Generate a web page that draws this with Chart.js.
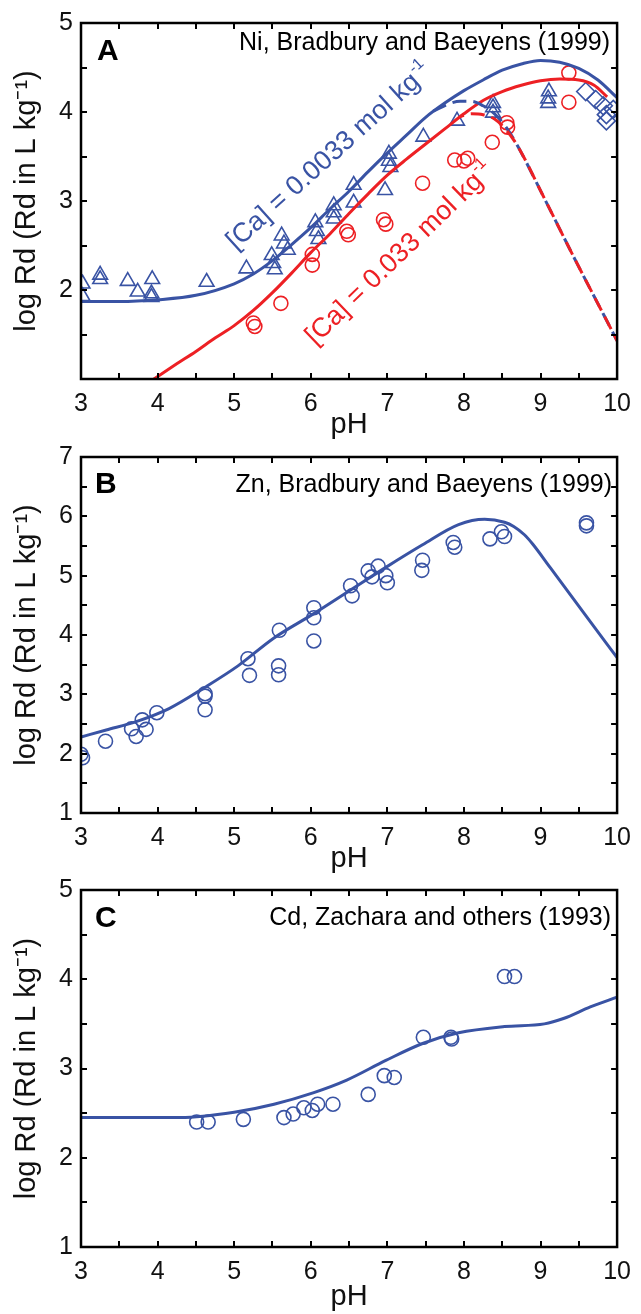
<!DOCTYPE html>
<html><head><meta charset="utf-8">
<script src="https://cdn.jsdelivr.net/npm/chart.js@4.4.1/dist/chart.umd.min.js"></script>
<style>
html,body{margin:0;padding:0;background:#fff;}
body{width:641px;height:1314px;position:relative;overflow:hidden;}
canvas{position:absolute;left:0;display:block;}
</style></head><body>
<canvas id="ca" width="641" height="445" style="top:0px"></canvas>
<canvas id="cb" width="641" height="444" style="top:434px"></canvas>
<canvas id="cc" width="641" height="447" style="top:867px"></canvas>
<script>
// ---------- shared axis data ----------
const xTickValues = [3, 4, 5, 6, 7, 8, 9, 10];
const yTicksA = [1, 2, 3, 4, 5];
const yTicksB = [1, 2, 3, 4, 5, 6, 7];
const yTicksC = [1, 2, 3, 4, 5];

// ---------- Panel A: Ni, Bradbury and Baeyens (1999) ----------
// model, [Ca] = 0.0033 mol/kg (blue, solid)
const niLowCaX = [3.0, 3.5, 4.0, 4.5, 5.0, 5.25, 5.5, 5.75, 6.0, 6.25, 6.5, 6.75, 7.0, 7.25, 7.5, 7.75, 8.0, 8.25, 8.5, 8.75, 9.0, 9.25, 9.5, 9.75, 10.0];
const niLowCaY = [1.87, 1.87, 1.89, 1.94, 2.07, 2.18, 2.33, 2.51, 2.70, 2.91, 3.11, 3.33, 3.54, 3.74, 3.94, 4.10, 4.24, 4.36, 4.47, 4.54, 4.58, 4.56, 4.49, 4.36, 4.16];
// model, [Ca] = 0.033 mol/kg (red, solid)
const niHighCaX = [3.9, 4.25, 4.5, 4.75, 5.0, 5.25, 5.5, 5.75, 6.0, 6.25, 6.5, 6.75, 7.0, 7.25, 7.5, 7.75, 8.0, 8.25, 8.5, 8.75, 9.0, 9.25, 9.5, 9.7, 9.87];
const niHighCaY = [0.97, 1.17, 1.31, 1.46, 1.60, 1.77, 1.97, 2.19, 2.42, 2.63, 2.86, 3.08, 3.29, 3.47, 3.64, 3.81, 3.98, 4.13, 4.23, 4.30, 4.35, 4.37, 4.36, 4.30, 4.17];
// alternative model (dashed), low Ca (blue)
const niLowCaDashX = [7.6, 7.8, 7.95, 8.1, 8.25, 8.4, 8.55, 8.7, 9.05, 9.47, 9.82, 10.0];
const niLowCaDashY = [4.01, 4.09, 4.12, 4.12, 4.07, 3.98, 3.83, 3.62, 3.03, 2.31, 1.73, 1.43];
// alternative model (dashed), high Ca (red)
const niHighCaDashX = [7.95, 8.1, 8.25, 8.4, 8.55, 8.7, 9.05, 9.47, 9.82, 10.0];
const niHighCaDashY = [3.95, 3.98, 3.97, 3.92, 3.80, 3.62, 3.03, 2.31, 1.73, 1.43];
// observations, low Ca (triangles)
const niTriX = [3.02, 3.02, 3.25, 3.25, 3.61, 3.74, 3.93, 3.92, 3.92, 4.64, 5.16, 5.49, 5.51, 5.53, 5.62, 5.65, 5.70, 6.06, 6.08, 6.10, 6.30, 6.30, 6.30, 6.56, 6.56, 7.02, 7.02, 7.04, 6.97, 7.47, 7.91, 8.38, 8.38, 8.38, 9.11, 9.10, 9.10];
const niTriY = [2.07, 1.93, 2.17, 2.12, 2.10, 1.98, 2.12, 1.96, 1.92, 2.09, 2.24, 2.39, 2.30, 2.23, 2.61, 2.52, 2.45, 2.76, 2.66, 2.57, 2.95, 2.87, 2.80, 3.18, 2.98, 3.53, 3.45, 3.38, 3.12, 3.72, 3.90, 4.10, 4.05, 3.99, 4.23, 4.15, 4.10];
// observations, low Ca (diamonds)
const niDiaX = [9.59, 9.72, 9.82, 9.86, 9.86, 9.95];
const niDiaY = [4.23, 4.14, 4.07, 3.97, 3.90, 4.03];
// observations, high Ca (circles)
const niCircX = [5.25, 5.27, 5.61, 6.02, 6.02, 6.47, 6.49, 6.95, 6.98, 7.46, 7.88, 8.00, 8.05, 8.37, 8.56, 8.57, 9.37, 9.37];
const niCircY = [1.63, 1.59, 1.85, 2.40, 2.28, 2.66, 2.62, 2.79, 2.74, 3.20, 3.46, 3.45, 3.48, 3.66, 3.88, 3.83, 4.44, 4.11];

// ---------- Panel B: Zn, Bradbury and Baeyens (1999) ----------
const znModelX = [3.0, 3.33, 3.72, 4.15, 4.62, 5.05, 5.52, 6.04, 6.51, 6.98, 7.46, 7.93, 8.27, 8.53, 8.65, 8.79, 8.9, 9.13, 9.56, 10.0];
const znModelY = [2.28, 2.40, 2.54, 2.76, 3.12, 3.48, 3.95, 4.36, 4.75, 5.14, 5.52, 5.86, 5.95, 5.90, 5.83, 5.69, 5.53, 5.13, 4.38, 3.62];
const znObsX = [3.00, 3.02, 3.32, 3.66, 3.72, 3.80, 3.85, 3.99, 4.62, 4.62, 4.62, 5.18, 5.20, 5.59, 5.58, 5.58, 6.04, 6.04, 6.04, 6.52, 6.54, 6.75, 6.80, 6.88, 6.98, 7.00, 7.46, 7.45, 7.86, 7.88, 8.34, 8.49, 8.53, 9.60, 9.60];
const znObsY = [1.99, 1.93, 2.21, 2.42, 2.29, 2.57, 2.41, 2.69, 3.01, 2.97, 2.74, 3.60, 3.32, 4.08, 3.48, 3.33, 4.46, 4.29, 3.90, 4.83, 4.66, 5.08, 4.98, 5.16, 5.00, 4.88, 5.26, 5.09, 5.56, 5.48, 5.62, 5.74, 5.66, 5.89, 5.84];

// ---------- Panel C: Cd, Zachara and others (1993) ----------
const cdModelX = [3.0, 4.3, 5.0, 5.52, 6.04, 6.47, 6.98, 7.46, 7.93, 8.53, 9.05, 9.3, 9.65, 10.0];
const cdModelY = [2.45, 2.45, 2.51, 2.60, 2.73, 2.87, 3.09, 3.28, 3.40, 3.47, 3.50, 3.56, 3.69, 3.80];
const cdObsX = [4.51, 4.66, 5.12, 5.65, 5.77, 5.91, 6.02, 6.09, 6.29, 6.75, 6.96, 7.09, 7.47, 7.83, 7.84, 8.53, 8.66];
const cdObsY = [2.40, 2.40, 2.43, 2.45, 2.49, 2.56, 2.53, 2.60, 2.60, 2.71, 2.92, 2.90, 3.35, 3.35, 3.33, 4.03, 4.03];

// ---------- styling ----------
const BLUE = '#3953a4';
const RED = '#ed2024';
const FONT = '"Liberation Sans", Arial, Helvetica, sans-serif';
const pts = (xs, ys) => xs.map((x, i) => ({x: x, y: ys[i]}));

const frameTicks = {
  id: 'frameTicks',
  afterDraw(chart) {
    const {ctx, chartArea: a, scales: {x, y}} = chart;
    const L = 6;
    ctx.save();
    ctx.strokeStyle = '#000';
    ctx.lineWidth = 2;
    ctx.beginPath();
    for (let v = x.min + 0.5; v < x.max - 1e-9; v += 0.5) {
      const px = Math.round(x.getPixelForValue(v));
      ctx.moveTo(px, a.bottom); ctx.lineTo(px, a.bottom - L);
      ctx.moveTo(px, a.top); ctx.lineTo(px, a.top + L);
    }
    for (let v = y.min + 0.5; v < y.max - 1e-9; v += 0.5) {
      const py = Math.round(y.getPixelForValue(v));
      ctx.moveTo(a.left, py); ctx.lineTo(a.left + L, py);
      ctx.moveTo(a.right, py); ctx.lineTo(a.right - L, py);
    }
    ctx.stroke();
    ctx.lineWidth = 2.5;
    ctx.strokeRect(a.left, a.top, a.right - a.left, a.bottom - a.top);
    ctx.restore();
  }
};

const panelText = {
  id: 'panelText',
  afterDraw(chart, args, o) {
    const {ctx, chartArea: a, scales} = chart;
    ctx.save();
    ctx.fillStyle = '#000';
    ctx.textBaseline = 'middle';
    ctx.textAlign = 'left';
    ctx.font = 'bold 30px ' + FONT;
    ctx.fillText(o.letter, a.left + o.letterDx, a.top + o.letterDy);
    ctx.font = '25px ' + FONT;
    ctx.textAlign = 'right';
    ctx.fillText(o.source, a.right - o.sourceDx, a.top + o.sourceDy);
    (o.rotated || []).forEach(lab => {
      const px = scales.x.getPixelForValue(lab.x);
      const py = scales.y.getPixelForValue(lab.y);
      ctx.save();
      ctx.translate(px, py);
      ctx.rotate(-lab.angle * Math.PI / 180);
      ctx.fillStyle = lab.color;
      ctx.textAlign = 'left';
      ctx.textBaseline = 'alphabetic';
      ctx.font = '27px ' + FONT;
      ctx.fillText(lab.text, 0, 0);
      const w = ctx.measureText(lab.text).width;
      ctx.font = '16px ' + FONT;
      ctx.fillText(lab.sup, w + 1, -12);
      ctx.restore();
    });
    ctx.restore();
  }
};

function lineDs(xs, ys, color, dash, offset, order) {
  return {
    type: 'scatter', data: pts(xs, ys), showLine: true, borderColor: color,
    borderWidth: 3, pointRadius: 0, borderDash: dash || [], borderDashOffset: offset || 0,
    cubicInterpolationMode: 'monotone', fill: false, clip: 0, order: order
  };
}
function markDs(xs, ys, color, style, r, order) {
  return {
    type: 'scatter', data: pts(xs, ys), showLine: false, pointStyle: style,
    pointRadius: r, pointBorderColor: color, pointBackgroundColor: 'rgba(0,0,0,0)',
    pointBorderWidth: 1.6, borderColor: color, backgroundColor: 'rgba(0,0,0,0)', clip: 0, order: order
  };
}

function makeOptions(yTicks, hideFirst, xAxisH, titlePad, textOpts) {
  return {
    responsive: false, animation: false, events: [],
    layout: {padding: {top: 17, right: 17, left: 0, bottom: 0}},
    plugins: {legend: {display: false}, tooltip: {enabled: false}, panelText: textOpts},
    scales: {
      x: {
        type: 'linear', min: 3, max: 10,
        afterBuildTicks: s => { s.ticks = xTickValues.map(v => ({value: v})); },
        afterFit: s => { s.height = xAxisH; },
        grid: {display: false, drawTicks: false}, border: {display: false},
        ticks: {color: '#111', font: {size: 25, family: FONT}, padding: 10, maxRotation: 0},
        title: {display: true, text: 'pH', color: '#111', font: {size: 29, family: FONT}, padding: titlePad}
      },
      y: {
        type: 'linear', min: yTicks[0], max: yTicks[yTicks.length - 1],
        afterBuildTicks: s => { s.ticks = yTicks.map(v => ({value: v})); },
        afterFit: s => { s.width = 81; },
        grid: {display: false, drawTicks: false}, border: {display: false},
        ticks: {color: '#111', font: {size: 25, family: FONT}, padding: 8,
          callback: v => (hideFirst && v === yTicks[0]) ? '' : String(v)},
        title: {display: true, text: 'log Rd (Rd in L kg\u207B\u00B9)', color: '#111', font: {size: 29, family: FONT}, padding: 10}
      }
    }
  };
}

new Chart(document.getElementById('ca'), {
  type: 'scatter',
  data: {datasets: [
    lineDs(niHighCaDashX, niHighCaDashY, RED, [14, 7], 10, 0),
    lineDs(niLowCaDashX, niLowCaDashY, BLUE, [14, 7], 0, 1),
    lineDs(niHighCaX, niHighCaY, RED, null, 0, 2),
    lineDs(niLowCaX, niLowCaY, BLUE, null, 0, 3),
    markDs(niTriX, niTriY, BLUE, 'triangle', 8.5, 4),
    markDs(niDiaX, niDiaY, BLUE, 'rectRot', 9, 5),
    markDs(niCircX, niCircY, RED, 'circle', 7, 6)
  ]},
  options: makeOptions(yTicksA, true, 66, 3, {
    letter: 'A', letterDx: 16, letterDy: 29,
    source: 'Ni, Bradbury and Baeyens (1999)', sourceDx: 7, sourceDy: 20,
    rotated: [
      {text: '[Ca] = 0.0033 mol kg', sup: '-1', x: 5.02, y: 2.44, angle: 42, color: BLUE},
      {text: '[Ca] = 0.033 mol kg', sup: '-1', x: 6.06, y: 1.37, angle: 44, color: RED}
    ]
  }),
  plugins: [frameTicks, panelText]
});

new Chart(document.getElementById('cb'), {
  type: 'scatter',
  data: {datasets: [
    lineDs(znModelX, znModelY, BLUE, null, 0, 0),
    markDs(znObsX, znObsY, BLUE, 'circle', 7, 1)
  ]},
  options: makeOptions(yTicksB, false, 65, 2, {
    letter: 'B', letterDx: 14, letterDy: 28,
    source: 'Zn, Bradbury and Baeyens (1999)', sourceDx: 5, sourceDy: 28
  }),
  plugins: [frameTicks, panelText]
});

new Chart(document.getElementById('cc'), {
  type: 'scatter',
  data: {datasets: [
    lineDs(cdModelX, cdModelY, BLUE, null, 0, 0),
    markDs(cdObsX, cdObsY, BLUE, 'circle', 7, 1)
  ]},
  options: makeOptions(yTicksC, false, 67, 0, {
    letter: 'C', letterDx: 14, letterDy: 29,
    source: 'Cd, Zachara and others (1993)', sourceDx: 6, sourceDy: 28
  }),
  plugins: [frameTicks, panelText]
});
</script>
</body></html>
